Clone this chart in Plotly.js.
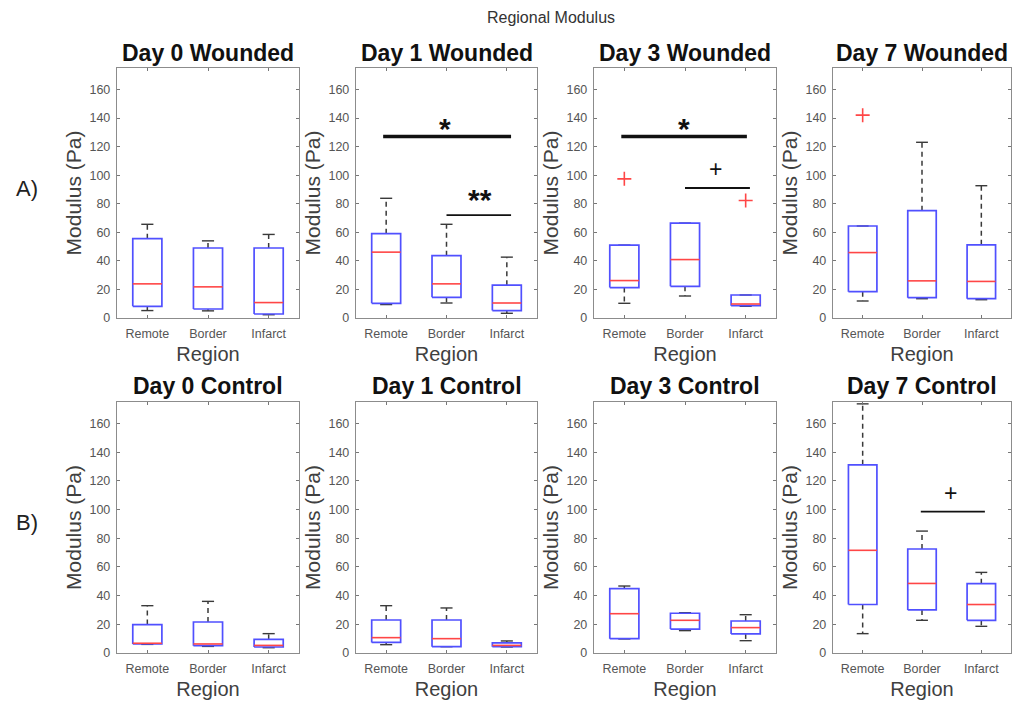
<!DOCTYPE html>
<html><head><meta charset="utf-8">
<script src="https://cdn.plot.ly/plotly-3.0.1.min.js"></script>
<style>html,body{margin:0;padding:0;background:#fff;overflow:hidden}#chart{width:1012px;height:702px}</style>
</head><body><div id="chart"></div>
<script>
// ---------- data ----------
const regions = ['Remote', 'Border', 'Infarct'];
const panelTitles = ['Day 0 Wounded', 'Day 1 Wounded', 'Day 3 Wounded', 'Day 7 Wounded',
                     'Day 0 Control', 'Day 1 Control', 'Day 3 Control', 'Day 7 Control'];
const yTickVals = [0, 20, 40, 60, 80, 100, 120, 140, 160];

// per panel: [Remote, Border, Infarct]
const lowerWhisker = [
  [5.2, 5.0, 2.3], [9.4, 10.5, 3.3], [10.3, 15.4, 8.2], [11.9, 13.5, 12.8],
  [6.0, 4.6, 3.7], [5.8, 4.4, 4.2], [9.8, 15.6, 8.6], [13.5, 22.8, 18.6]
];
const q1 = [
  [8.2, 6.3, 2.8], [10.3, 14.5, 5.2], [21.3, 22.2, 8.6], [18.4, 14.2, 13.5],
  [6.3, 5.1, 4.2], [7.4, 4.4, 4.4], [10.0, 16.7, 13.3], [33.8, 30.0, 22.8]
];
const medians = [
  [23.9, 21.8, 10.8], [46.1, 23.9, 10.5], [26.2, 40.9, 9.8], [45.8, 26.0, 25.6],
  [6.8, 6.3, 5.3], [10.7, 10.0, 5.3], [27.4, 22.8, 17.7], [71.6, 48.5, 33.8]
];
const q3 = [
  [55.5, 49.0, 49.0], [59.0, 43.6, 23.0], [51.0, 66.4, 16.1], [64.4, 75.1, 51.2],
  [19.8, 21.6, 9.5], [23.0, 23.0, 7.0], [44.9, 27.7, 22.3], [131.2, 72.5, 48.3]
];
const upperWhisker = [
  [65.6, 54.0, 58.5], [83.8, 65.6, 42.6], [51.0, 66.4, 16.1], [64.4, 123.0, 92.6],
  [33.0, 36.0, 13.5], [33.0, 31.4, 8.4], [46.7, 28.1, 26.7], [173.7, 85.0, 56.2]
];
// outliers
const outlierPanel = [2, 2, 3];
const outlierRegion = [0, 2, 0];
const outlierValue = [97.4, 82.2, 142.0];
// significance bars
const sigPanel = [1, 1, 2, 2, 7];
const sigFrom = [0.95, 2.0, 0.95, 2.0, 1.98];
const sigTo = [3.07, 3.07, 3.02, 3.07, 3.06];
const sigLevel = [127, 72, 127, 91, 98.6];
const sigLabel = ['*', '**', '*', '+', '+'];
const sigLabelX = [1.98, 2.56, 1.98, 2.5, 2.48];
const sigThick = [true, false, true, false, false];

// ---------- layout geometry ----------
const W = 1012, H = 702;
const colPx = [[117, 299], [356, 537], [594, 776], [833, 1011]];
const rowPx = [[68, 318], [402, 653]];
const FONT = 'Liberation Sans, Arial, sans-serif';
const boxHalf = 0.24, capHalf = 0.1;
const BLUE = 'rgb(80,80,255)', RED = 'rgb(255,70,70)', DARK = '#3a3a3a';

const traces = [];
const layout = {
  width: W, height: H, margin: {l: 0, r: 0, t: 0, b: 0},
  paper_bgcolor: '#fff', plot_bgcolor: '#fff', showlegend: false,
  font: {family: FONT},
  title: {text: 'Regional Modulus', x: 551 / W, xanchor: 'center', y: 1 - 17 / H, yanchor: 'middle',
          font: {size: 16, color: '#333', family: FONT}},
  annotations: [], shapes: []
};

for (let p = 0; p < 8; p++) {
  const s = p === 0 ? '' : String(p + 1);
  const xa = 'x' + s, ya = 'y' + s;
  const col = p % 4, row = Math.floor(p / 4);
  const xd = [colPx[col][0] / W, colPx[col][1] / W];
  const yd = [1 - rowPx[row][1] / H, 1 - rowPx[row][0] / H];
  layout['xaxis' + s] = {
    domain: xd, anchor: ya, range: [0.5, 3.5], tickvals: [1, 2, 3], ticktext: regions,
    ticks: 'inside', ticklen: 3, tickcolor: '#777', showline: true, mirror: 'ticks', linecolor: '#8c8c8c', linewidth: 1.2,
    showgrid: false, zeroline: false, tickfont: {size: 12.5, color: '#555', family: FONT}, ticklabelstandoff: 4,
    title: {text: 'Region', font: {size: 20, color: '#404040', family: FONT}, standoff: 6}, fixedrange: true
  };
  layout['yaxis' + s] = {
    domain: yd, anchor: xa, range: [0, 175], tickvals: yTickVals,
    ticks: 'inside', ticklen: 3, tickcolor: '#777', showline: true, mirror: 'ticks', linecolor: '#8c8c8c', linewidth: 1.2,
    showgrid: false, zeroline: false, tickfont: {size: 12.5, color: '#555', family: FONT}, ticklabelstandoff: 3,
    title: {text: 'Modulus (Pa)', font: {size: 21, color: '#404040', family: FONT}, standoff: 2}, fixedrange: true
  };
  layout.annotations.push({
    text: '<b>' + panelTitles[p] + '</b>', xref: 'paper', yref: 'paper',
    x: (xd[0] + xd[1]) / 2, y: 1 - (row === 0 ? 53 : 386) / H, xanchor: 'center', yanchor: 'middle',
    showarrow: false, font: {size: 23, color: '#111', family: FONT}
  });

  const bx = [], by = [], mx = [], my = [], wx = [], wy = [], cx = [], cy = [];
  for (let i = 0; i < 3; i++) {
    const c = i + 1;
    bx.push(c - boxHalf, c + boxHalf, c + boxHalf, c - boxHalf, c - boxHalf, null);
    by.push(q1[p][i], q1[p][i], q3[p][i], q3[p][i], q1[p][i], null);
    mx.push(c - boxHalf, c + boxHalf, null);
    my.push(medians[p][i], medians[p][i], null);
    wx.push(c, c, null, c, c, null);
    wy.push(q3[p][i], upperWhisker[p][i], null, q1[p][i], lowerWhisker[p][i], null);
    cx.push(c - capHalf, c + capHalf, null, c - capHalf, c + capHalf, null);
    cy.push(upperWhisker[p][i], upperWhisker[p][i], null, lowerWhisker[p][i], lowerWhisker[p][i], null);
  }
  traces.push({type: 'scatter', mode: 'lines', x: wx, y: wy, xaxis: xa, yaxis: ya, hoverinfo: 'skip',
               line: {color: DARK, width: 1.5, dash: '5px,4px'}});
  traces.push({type: 'scatter', mode: 'lines', x: cx, y: cy, xaxis: xa, yaxis: ya, hoverinfo: 'skip',
               line: {color: DARK, width: 1.4}});
  traces.push({type: 'scatter', mode: 'lines', x: bx, y: by, xaxis: xa, yaxis: ya, hoverinfo: 'skip',
               line: {color: BLUE, width: 1.7}});
  traces.push({type: 'scatter', mode: 'lines', x: mx, y: my, xaxis: xa, yaxis: ya, hoverinfo: 'skip',
               line: {color: RED, width: 1.6}});

  // outliers
  const ox = [], oy = [];
  outlierPanel.forEach((op, k) => { if (op === p) { ox.push(outlierRegion[k] + 1); oy.push(outlierValue[k]); } });
  if (ox.length) traces.push({type: 'scatter', mode: 'markers', x: ox, y: oy, xaxis: xa, yaxis: ya, hoverinfo: 'skip',
                              marker: {symbol: 'cross-thin-open', size: 10, color: RED, line: {color: RED, width: 1.6}}});

  // significance
  sigPanel.forEach((sp, k) => {
    if (sp !== p) return;
    traces.push({type: 'scatter', mode: 'lines', x: [sigFrom[k], sigTo[k]], y: [sigLevel[k], sigLevel[k]],
                 xaxis: xa, yaxis: ya, hoverinfo: 'skip', line: {color: '#111', width: sigThick[k] ? 3.6 : 1.8}});
    const isStar = sigLabel[k].indexOf('*') >= 0;
    layout.annotations.push({
      text: isStar ? '<b>' + sigLabel[k] + '</b>' : sigLabel[k], xref: xa, yref: ya, x: sigLabelX[k], y: sigLevel[k],
      xanchor: 'center', yanchor: 'bottom',
      showarrow: false, font: {size: isStar ? 30 : 23, color: '#111', family: FONT},
      yshift: isStar ? (sigLabel[k].length === 2 ? -3 : -10) : 4
    });
  });
}

layout.annotations.push({text: 'A)', xref: 'paper', yref: 'paper', x: 27 / W, y: 1 - 188 / H,
  xanchor: 'center', yanchor: 'middle', showarrow: false, font: {size: 22, color: '#222', family: FONT}});
layout.annotations.push({text: 'B)', xref: 'paper', yref: 'paper', x: 27 / W, y: 1 - 522 / H,
  xanchor: 'center', yanchor: 'middle', showarrow: false, font: {size: 22, color: '#222', family: FONT}});

Plotly.newPlot('chart', traces, layout, {staticPlot: true, displayModeBar: false});
</script></body></html>
